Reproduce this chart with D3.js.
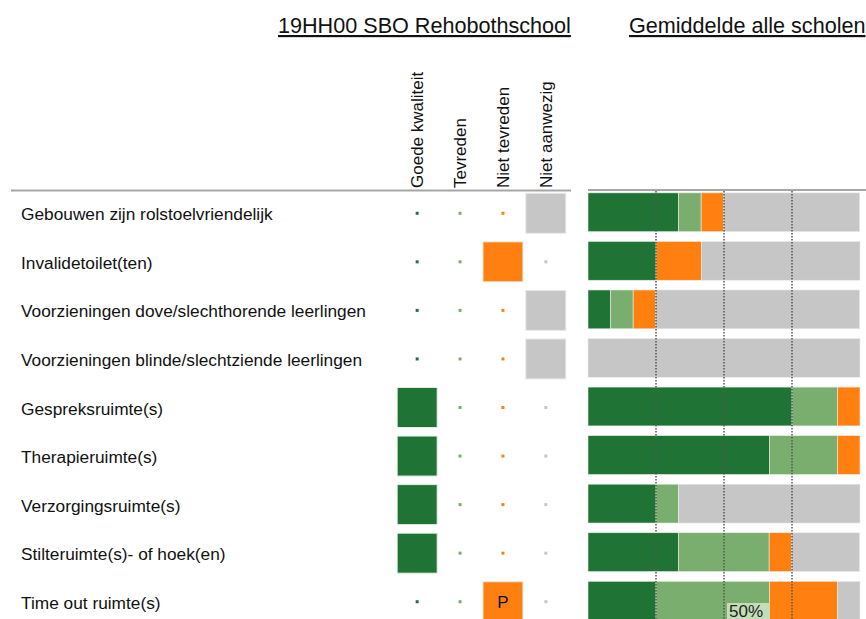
<!DOCTYPE html>
<html>
<head>
<meta charset="utf-8">
<script src="https://cdn.jsdelivr.net/npm/d3@7"></script>
<style>
  body{margin:0;background:#fff;}
  text{font-family:Arial,"Liberation Sans",sans-serif;}
</style>
</head>
<body>
<svg id="chart" width="866" height="619"></svg>
<script>
// categories (rows)
const items = [
  "Gebouwen zijn rolstoelvriendelijk",
  "Invalidetoilet(ten)",
  "Voorzieningen dove/slechthorende leerlingen",
  "Voorzieningen blinde/slechtziende leerlingen",
  "Gespreksruimte(s)",
  "Therapieruimte(s)",
  "Verzorgingsruimte(s)",
  "Stilteruimte(s)- of hoek(en)",
  "Time out ruimte(s)"
];
const answers = ["Goede kwaliteit","Tevreden","Niet tevreden","Niet aanwezig"];
const colors = ["#1f7335","#7aae6e","#ff8011","#c6c6c6"];

// school answer per row (index into answers), and mark text
const schoolAnswer = [3,2,3,3,0,0,0,0,2];
const schoolMark   = ["","","","","","","","","P"];

// average of all schools, % per answer
const goede      = [33.3, 25.0,  8.3,   0, 75.0, 66.7, 25.0, 33.3, 25.0];
const tevreden   = [ 8.3,    0,  8.3,   0, 16.7, 25.0,  8.3, 33.3, 41.7];
const nietTevr   = [ 8.3, 16.7,  8.3,   0,  8.3,  8.3,    0,  8.3, 25.0];
const nietAanw   = [50.0, 58.3, 75.0, 100,    0,    0, 66.7, 25.0,  8.3];
const gridTicks = [25, 50, 75];

const svg = d3.select("#chart");

const y = d3.scaleBand().domain(d3.range(items.length)).range([188, 625]).paddingInner(0.2).paddingOuter(0.1);
const xc = d3.scaleBand().domain(answers).range([394, 569]).padding(0.08);
const x = d3.scaleLinear().domain([0,100]).range([588, 860]);

// titles
svg.append("text").attr("x",278).attr("y",33).attr("font-size",21.6).attr("fill","#111")
  .attr("text-decoration","underline").text("19HH00 SBO Rehobothschool");
svg.append("text").attr("x",629).attr("y",33).attr("font-size",21.6).attr("fill","#111")
  .attr("text-decoration","underline").text("Gemiddelde alle scholen");

// column headers
svg.selectAll(".colhead").data(answers).enter().append("text")
  .attr("class","colhead")
  .attr("transform",d=>"translate("+(xc(d)+xc.bandwidth()/2+6)+",188) rotate(-90)")
  .attr("font-size",17).attr("fill","#111").text(d=>d);

// header lines
svg.append("line").attr("x1",11).attr("x2",571).attr("y1",190.5).attr("y2",190.5).attr("stroke","#a6a6a6").attr("stroke-width",2);
svg.append("line").attr("x1",588).attr("x2",866).attr("y1",190).attr("y2",190).attr("stroke","#a6a6a6").attr("stroke-width",2);

// row labels
svg.selectAll(".rowlab").data(items).enter().append("text")
  .attr("x",21).attr("y",(d,i)=>y(i)+y.bandwidth()/2+8)
  .attr("font-size",17.3).attr("fill","#111").text(d=>d);

// school matrix
items.forEach((it,i)=>{
  answers.forEach((a,j)=>{
    const cx = xc(a)+xc.bandwidth()/2, cy = y(i)+y.bandwidth()/2+1;
    if (schoolAnswer[i]===j){
      svg.append("rect").attr("x",cx-20).attr("y",cy-20).attr("width",40).attr("height",40)
        .attr("fill",colors[j]).attr("stroke","#e6ece4").attr("stroke-width",1);
      if (schoolMark[i]) svg.append("text").attr("x",cx).attr("y",cy+6).attr("text-anchor","middle")
        .attr("font-size",17).attr("fill","#111").text(schoolMark[i]);
    } else {
      svg.append("rect").attr("x",cx-1.5).attr("y",cy-1.5).attr("width",3).attr("height",3).attr("fill",colors[j]);
    }
  });
});

// stacked bars
const table = items.map((d,i)=>({item:i, g:goede[i], t:tevreden[i], n:nietTevr[i], a:nietAanw[i]}));
const stack = d3.stack().keys(["g","t","n","a"])(table);
svg.append("g").selectAll("g").data(stack).enter().append("g")
  .attr("fill",(d,k)=>colors[k])
  .selectAll("rect").data(d=>d).enter().append("rect")
  .attr("x",d=>x(d[0])).attr("width",d=>x(d[1])-x(d[0]))
  .attr("y",d=>y(d.data.item)).attr("height",y.bandwidth())
  .attr("stroke","#e9eee7").attr("stroke-width",0.6);

// dotted gridlines
svg.selectAll(".grid").data(gridTicks).enter().append("line")
  .attr("x1",d=>x(d)).attr("x2",d=>x(d)).attr("y1",191).attr("y2",619)
  .attr("stroke","#555").attr("stroke-width",1.5).attr("stroke-dasharray","1.5,1.5");

// 50% label
const last = items.length-1;
svg.append("rect").attr("x",727).attr("y",603).attr("width",43).attr("height",16).attr("fill","#c3ddb6");
svg.append("text").attr("x",729).attr("y",617).attr("font-size",17).attr("fill","#222").text("50%");
</script>
</body>
</html>
